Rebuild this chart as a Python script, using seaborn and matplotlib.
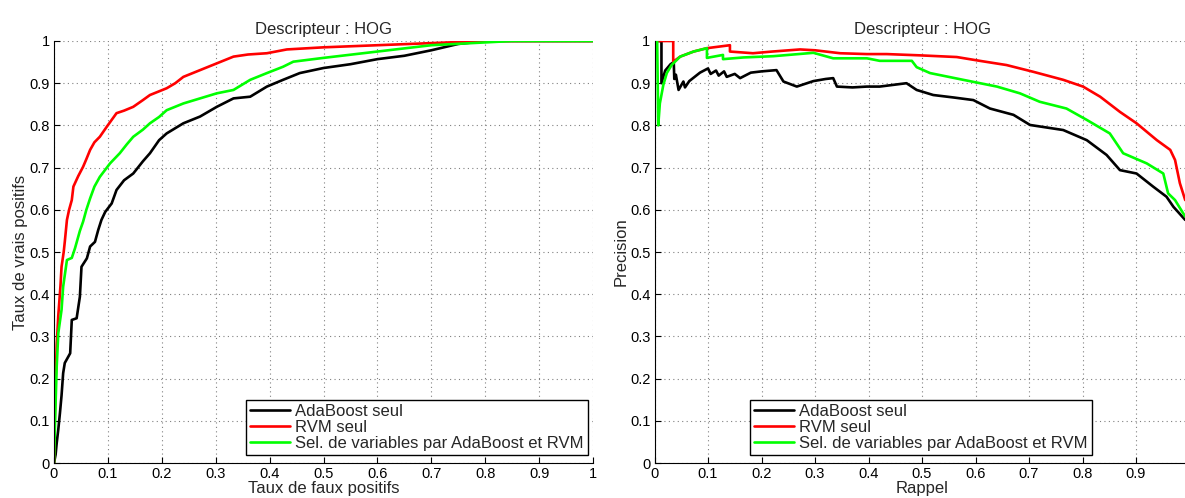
import numpy as np
import pandas as pd
import matplotlib
matplotlib.use('Agg')
import matplotlib.pyplot as plt
import seaborn as sns

# ROC curves (left): false positive rate / true positive rate
roc_ada_fpr = [0, 0.003, 0.005, 0.008, 0.011, 0.014, 0.017, 0.02, 0.03, 0.033, 0.042, 0.048, 0.051, 0.061,
               0.067, 0.076, 0.082, 0.088, 0.095, 0.107, 0.116, 0.13, 0.147, 0.165, 0.178, 0.195, 0.209,
               0.24, 0.271, 0.302, 0.333, 0.364, 0.395, 0.425, 0.456, 0.5, 0.55, 0.6, 0.65, 0.7, 0.75, 0.8, 1.0]
roc_ada_tpr = [0, 0.02, 0.047, 0.08, 0.118, 0.16, 0.213, 0.237, 0.26, 0.339, 0.343, 0.394, 0.465, 0.485,
               0.513, 0.524, 0.552, 0.576, 0.595, 0.615, 0.647, 0.67, 0.686, 0.715, 0.734, 0.765, 0.781,
               0.805, 0.821, 0.844, 0.864, 0.868, 0.892, 0.908, 0.924, 0.936, 0.945, 0.957, 0.965, 0.978, 0.993, 1.0, 1.0]

roc_rvm_fpr = [0, 0.002, 0.005, 0.008, 0.012, 0.014, 0.018, 0.02, 0.024, 0.028, 0.033, 0.036, 0.045, 0.054,
               0.06, 0.067, 0.075, 0.085, 0.098, 0.116, 0.13, 0.147, 0.165, 0.178, 0.209, 0.225, 0.24, 0.271,
               0.302, 0.333, 0.36, 0.395, 0.432, 0.5, 0.6, 0.7, 0.8, 1.0]
roc_rvm_tpr = [0, 0.15, 0.28, 0.35, 0.42, 0.465, 0.5, 0.524, 0.576, 0.6, 0.623, 0.655, 0.68, 0.702,
               0.72, 0.742, 0.76, 0.773, 0.797, 0.829, 0.835, 0.844, 0.86, 0.872, 0.888, 0.9, 0.915, 0.931,
               0.947, 0.963, 0.968, 0.971, 0.98, 0.985, 0.99, 0.995, 1.0, 1.0]

roc_sel_fpr = [0, 0.002, 0.005, 0.008, 0.014, 0.017, 0.024, 0.033, 0.039, 0.048, 0.054, 0.06, 0.067, 0.075,
               0.085, 0.104, 0.122, 0.135, 0.147, 0.165, 0.178, 0.195, 0.209, 0.24, 0.271, 0.302, 0.333,
               0.364, 0.395, 0.425, 0.444, 0.5, 0.6, 0.7, 0.85, 1.0]
roc_sel_tpr = [0, 0.1, 0.228, 0.308, 0.363, 0.418, 0.481, 0.486, 0.509, 0.55, 0.572, 0.6, 0.627, 0.655,
               0.678, 0.71, 0.734, 0.755, 0.773, 0.79, 0.805, 0.82, 0.836, 0.852, 0.864, 0.876, 0.884,
               0.908, 0.924, 0.939, 0.951, 0.96, 0.975, 0.99, 1.0, 1.0]

# precision / recall curves (right)
pr_ada_rec = [0.007, 0.013, 0.013, 0.02, 0.03, 0.036, 0.037, 0.04, 0.045, 0.054, 0.057, 0.065, 0.075, 0.085,
              0.1, 0.105, 0.115, 0.12, 0.13, 0.135, 0.15, 0.16, 0.18, 0.2, 0.228, 0.241, 0.266, 0.297, 0.32,
              0.334, 0.341, 0.37, 0.397, 0.421, 0.471, 0.49, 0.521, 0.56, 0.596, 0.627, 0.671, 0.702, 0.764,
              0.808, 0.845, 0.87, 0.901, 0.932, 0.957, 0.97, 0.992]
pr_ada_prec = [1.0, 1.0, 0.90, 0.93, 0.945, 0.95, 0.91, 0.92, 0.884, 0.904, 0.89, 0.905, 0.915, 0.925,
               0.935, 0.922, 0.93, 0.918, 0.928, 0.915, 0.922, 0.912, 0.925, 0.928, 0.931, 0.904, 0.892, 0.905, 0.91,
               0.912, 0.892, 0.89, 0.892, 0.892, 0.9, 0.884, 0.872, 0.866, 0.86, 0.84, 0.825, 0.801, 0.789,
               0.765, 0.73, 0.694, 0.686, 0.655, 0.631, 0.607, 0.576]

pr_rvm_rec = [0.005, 0.035, 0.035, 0.048, 0.073, 0.098, 0.141, 0.141, 0.184, 0.22, 0.272, 0.3, 0.347, 0.397,
              0.434, 0.496, 0.565, 0.608, 0.658, 0.708, 0.764, 0.801, 0.833, 0.87, 0.901, 0.939, 0.964,
              0.973, 0.982, 0.992]
pr_rvm_prec = [1.0, 1.0, 0.951, 0.963, 0.975, 0.983, 0.99, 0.975, 0.971, 0.975, 0.98, 0.978, 0.971, 0.969,
               0.969, 0.966, 0.962, 0.953, 0.943, 0.927, 0.908, 0.892, 0.868, 0.832, 0.805, 0.765, 0.742,
               0.718, 0.663, 0.623]

pr_sel_rec = [0.003, 0.005, 0.007, 0.01, 0.0165, 0.023, 0.032, 0.048, 0.073, 0.098, 0.098, 0.128, 0.128,
              0.166, 0.222, 0.297, 0.334, 0.397, 0.421, 0.481, 0.49, 0.515, 0.577, 0.64, 0.683, 0.72, 0.77,
              0.808, 0.851, 0.876, 0.92, 0.951, 0.96, 0.973, 0.992]
pr_sel_prec = [1.0, 1.0, 0.8, 0.852, 0.896, 0.924, 0.943, 0.963, 0.975, 0.983, 0.96, 0.967, 0.957,
               0.961, 0.964, 0.972, 0.959, 0.959, 0.953, 0.953, 0.938, 0.924, 0.908, 0.892, 0.876, 0.856, 0.84,
               0.813, 0.781, 0.734, 0.71, 0.686, 0.639, 0.623, 0.584]

labels = ['AdaBoost seul', 'RVM seul', 'Sel. de variables par AdaBoost et RVM']
colors = ['#000000', '#ff0000', '#00ff00']
ticks = [0, 0.1, 0.2, 0.3, 0.4, 0.5, 0.6, 0.7, 0.8, 0.9, 1]
tick_labels = ['0', '0.1', '0.2', '0.3', '0.4', '0.5', '0.6', '0.7', '0.8', '0.9', '1']

sns.set_style('white')
plt.rcParams['font.family'] = ['Liberation Sans', 'DejaVu Sans']

fig = plt.figure(figsize=(11.85, 4.98), dpi=100)
ax1 = fig.add_axes([54 / 1185, 35 / 498, 539 / 1185, 422 / 498])
ax2 = fig.add_axes([654.5 / 1185, 35 / 498, 535 / 1185, 422 / 498])

roc = [(roc_ada_fpr, roc_ada_tpr), (roc_rvm_fpr, roc_rvm_tpr), (roc_sel_fpr, roc_sel_tpr)]
pr = [(pr_ada_rec, pr_ada_prec), (pr_rvm_rec, pr_rvm_prec), (pr_sel_rec, pr_sel_prec)]

for ax, curves in [(ax1, roc), (ax2, pr)]:
    for (xs, ys), lab, col in zip(curves, labels, colors):
        sns.lineplot(x=xs, y=ys, ax=ax, sort=False, estimator=None, color=col, lw=1.9, label=lab)

def style_axes(ax, title, xlabel, ylabel, legend_right, nx):
    ax.set_xlim(0, 1)
    ax.set_ylim(0, 1)
    ax.set_xticks(ticks[:nx])
    ax.set_xticklabels(tick_labels[:nx], fontsize=10.5)
    ax.set_yticks(ticks)
    ax.set_yticklabels(tick_labels, fontsize=10.5)
    ax.grid(True, color='#808080', linestyle=(0, (1, 3)), linewidth=0.8)
    for s in ['top', 'right']:
        ax.spines[s].set_visible(False)
    for s in ['left', 'bottom']:
        ax.spines[s].set_color('black')
        ax.spines[s].set_linewidth(0.8)
    ax.tick_params(direction='in', length=4, width=0.8, colors='black', pad=3,
                   left=True, bottom=True)
    ax.set_title(title, fontsize=12, pad=5)
    ax.set_xlabel(xlabel, fontsize=12, labelpad=0)
    ax.set_ylabel(ylabel, fontsize=12, labelpad=1)
    leg = ax.legend(loc='lower right', bbox_to_anchor=(legend_right, 0.019), borderaxespad=0,
                    fontsize=12, handlelength=2.4, labelspacing=0.05, handletextpad=0.3,
                    borderpad=0.25, fancybox=False, framealpha=1, edgecolor='black')
    leg.get_frame().set_linewidth(1.0)

style_axes(ax1, 'Descripteur : HOG', 'Taux de faux positifs', 'Taux de vrais positifs', 0.9907, 11)
style_axes(ax2, 'Descripteur : HOG', 'Rappel', 'Precision', 0.818, 10)

fig.savefig('out.png', dpi=100)
